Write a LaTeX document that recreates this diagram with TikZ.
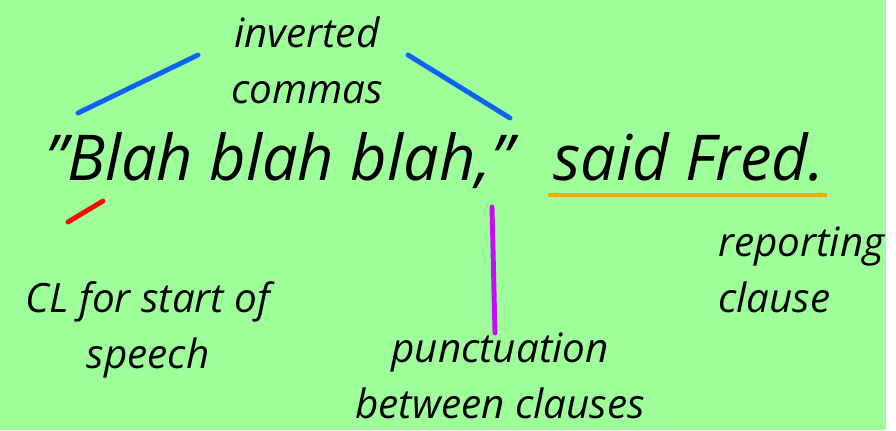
\documentclass[tikz,border=0pt]{standalone}
\usepackage{fontspec}
\setmainfont{Open Sans}
\usetikzlibrary{positioning}
\definecolor{fundo}{RGB}{158,255,154}
\definecolor{azul}{RGB}{16,98,245}
\definecolor{vermelho}{RGB}{250,10,10}
\definecolor{roxo}{RGB}{200,10,250}
\definecolor{laranja}{RGB}{245,168,10}

\begin{document}
\begin{tikzpicture}[x=0.02cm, y=-0.02cm,
  note/.style={font=\fontsize{23}{32}\selectfont\itshape, align=center, inner sep=0pt},
  sentence/.style={font=\fontsize{36}{40}\selectfont\itshape, inner sep=0pt, anchor=base west},
  stroke/.style={line width=2.8pt, line cap=round}
]
\useasboundingbox (0,0) rectangle (896,430);
\fill[fundo] (0,0) rectangle (886,430);
\node[note] (marks) at (307,60) {inverted\\commas};
\node[sentence] (speech) at (45,180) {”Blah blah blah,”};
\node[sentence] (tag) at (553,180) {said Fred.};
\node[note] (capital) at (148,330) {CL for start of\\speech};
\node[note] (comma) at (500,376) {punctuation\\between clauses};
\node[note, align=left, anchor=west] (reporting) at (718,270) {reporting\\clause};
\coordinate (marksleft) at (198,55);
\coordinate (marksright) at (408,55);
\coordinate (openquote) at (78,113);
\coordinate (closequote) at (510,118);
\coordinate (capitaltip) at (103,201);
\coordinate (capitalend) at (68,222);
\coordinate (commatip) at (492,207);
\coordinate (commaend) at (495,333);
\draw[stroke, azul] (marksleft) -- (openquote);
\draw[stroke, azul] (marksright) -- (closequote);
\draw[stroke, vermelho] (capitaltip) -- (capitalend);
\draw[stroke, roxo] (commatip) -- (commaend);
\draw[line width=1.8pt, laranja] ([xshift=-0.1cm, yshift=-0.3cm]tag.base west) -- ([xshift=0.05cm, yshift=-0.3cm]tag.base east);
\end{tikzpicture}
\end{document}
